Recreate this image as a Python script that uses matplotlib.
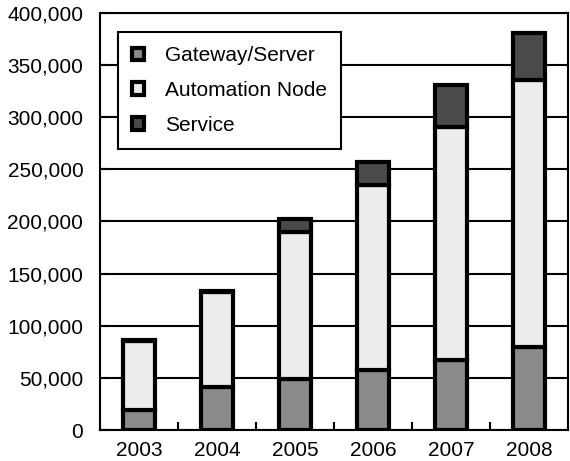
import matplotlib
matplotlib.use('Agg')
import matplotlib.pyplot as plt
import numpy as np
from matplotlib.ticker import FuncFormatter

plt.rcParams['font.family'] = ['Liberation Sans', 'DejaVu Sans']

years = ['2003', '2004', '2005', '2006', '2007', '2008']
gateway = [19000, 41000, 49000, 58000, 67000, 80000]
automation = [66000, 91000, 141000, 177000, 224000, 256000]
service = [1500, 1500, 12000, 22000, 40000, 45000]

x = np.arange(len(years))
w = 0.42

fig = plt.figure(figsize=(5.7, 4.61), dpi=100)
ax = fig.add_axes([100/570, 1-430/461, 468/570, 417/461])

ax.yaxis.grid(True, color='black', linewidth=1.5)
ax.set_axisbelow(True)

ax.bar(x, gateway, w, color='#8a8a8a', edgecolor='black', linewidth=3, label='Gateway/Server')
ax.bar(x, automation, w, bottom=gateway, color='#ececec', edgecolor='black', linewidth=3, label='Automation Node')
bot2 = np.array(gateway) + np.array(automation)
ax.bar(x, service, w, bottom=bot2, color='#4a4a4a', edgecolor='black', linewidth=3, label='Service')

ax.set_ylim(0, 400000)
ax.set_xlim(-0.5, len(years) - 0.5)
ax.set_yticks(np.arange(0, 400001, 50000))
ax.yaxis.set_major_formatter(FuncFormatter(lambda v, p: '{:,.0f}'.format(v)))
ax.set_xticks(x)
ax.set_xticklabels(years)
ax.set_xticks(np.arange(-0.5, len(years), 1), minor=True)
ax.tick_params(axis='x', which='major', length=0, labelsize=15, pad=8)
ax.tick_params(axis='x', which='minor', direction='in', length=6, width=1.5)
ax.tick_params(axis='y', direction='in', length=6, width=1.5, labelsize=15, pad=12)
for s in ax.spines.values():
    s.set_linewidth(1.5)

leg = ax.legend(loc='upper left', bbox_to_anchor=(0.038, 0.955), fontsize=15,
                frameon=True, fancybox=False, edgecolor='black', framealpha=1,
                handlelength=0.55, handleheight=0.55, labelspacing=0.75,
                borderpad=0.7, handletextpad=1.0, borderaxespad=0)
leg.get_frame().set_linewidth(1.5)

fig.savefig('out.png', dpi=100)
